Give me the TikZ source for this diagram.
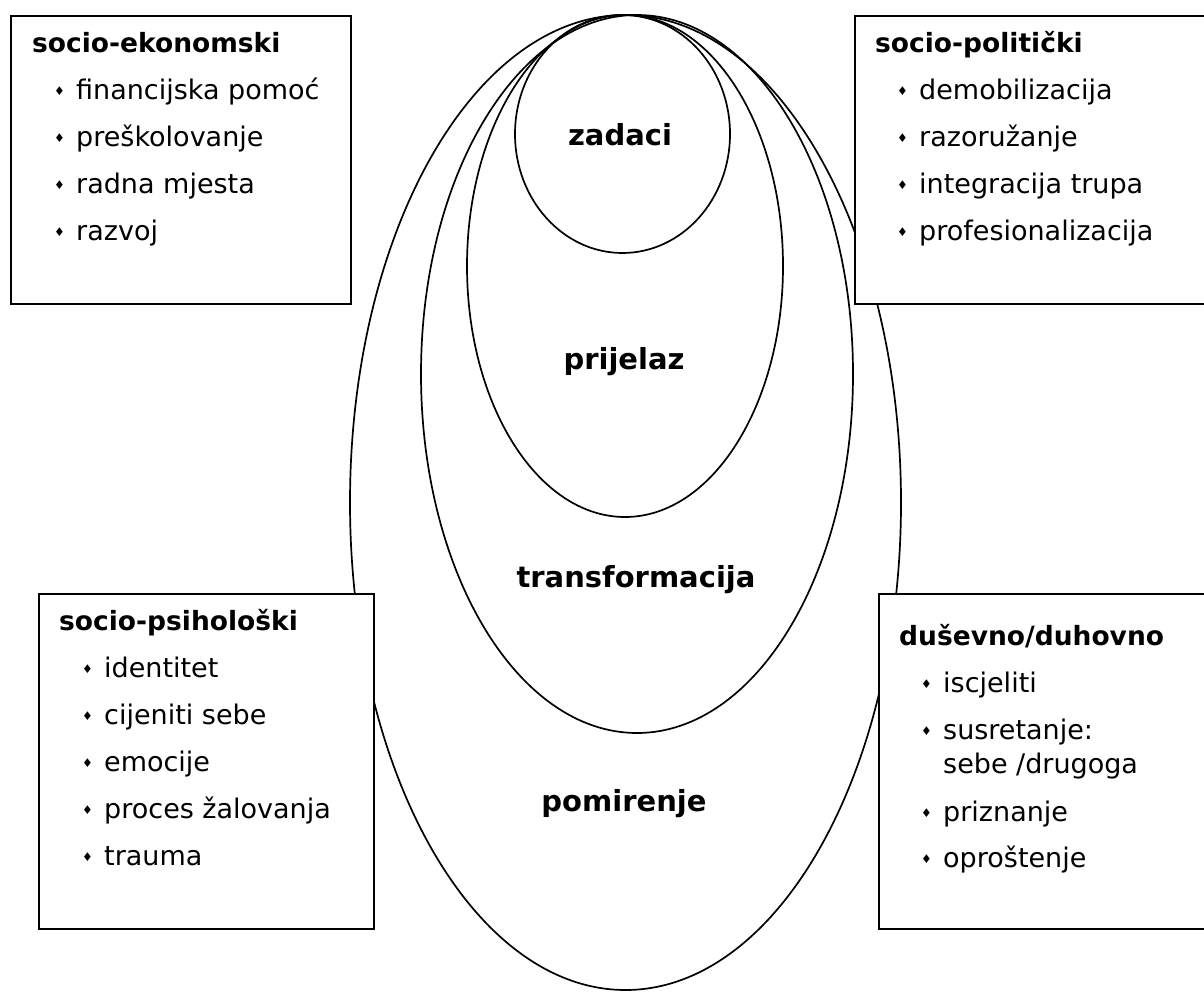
\documentclass[tikz,border=0pt]{standalone}
\usepackage{fontspec}
\setmainfont{DejaVu Sans}
\usepackage{tikz}
\usetikzlibrary{shapes.geometric, positioning}
\tikzstyle{ring} = [ellipse, draw=black, line width=1.7pt, inner sep=0pt]
\tikzstyle{panel} = [rectangle, draw=black, line width=2pt, fill=white, anchor=north west, inner sep=0pt]
\tikzstyle{heading} = [font=\fontsize{26.5}{31}\selectfont\bfseries, anchor=base west, inner sep=0pt]
\tikzstyle{item} = [font=\fontsize{27}{32}\selectfont, anchor=base west, inner sep=0pt]
\tikzstyle{stage} = [font=\fontsize{29}{35}\selectfont\bfseries, anchor=base, inner sep=0pt]
\newcommand{\bul}{\makebox[21pt][l]{\hspace*{-1pt}\raisebox{4pt}{\fontsize{12}{12}\selectfont ♦}}}

\begin{document}
\begin{tikzpicture}[x=1pt, y=-1pt]
\useasboundingbox (0,0) rectangle (1204,992);
% nested ellipses
\node[ring, minimum width=551pt, minimum height=975pt] (pomirenje) at (625.5,502.5) {};
\node[ring, minimum width=432pt, minimum height=718pt] (transformacija) at (637,374) {};
\node[ring, minimum width=316pt, minimum height=502pt] (prijelaz) at (625,266) {};
\node[ring, minimum width=215pt, minimum height=238pt] (zadaci) at (622.5,134) {};

\node[stage] (zadaci-lbl) at (620,146) {zadaci};
\node[stage] (prijelaz-lbl) at (624,369) {prijelaz};
\node[stage] (transformacija-lbl) at (636,587) {transformacija};
\node[stage] (pomirenje-lbl) at (624,811) {pomirenje};

% boxes
\node[panel, minimum width=340pt, minimum height=288pt] (eko) at (10,15) {};
\node[heading] (eko-head) at ([shift={(22,38)}]eko.north west) {socio-ekonomski};
\foreach \t [count=\i] in {financijska pomoć, preškolovanje, radna mjesta, razvoj}
  \node[item] (eko-\i) at ([shift={(23,47*\i)}]eko-head.base west) {\bul\t};

\node[panel, minimum width=366pt, minimum height=288pt] (pol) at (854,15) {};
\node[heading] (pol-head) at ([shift={(21,38)}]pol.north west) {socio-politički};
\foreach \t [count=\i] in {demobilizacija, razoružanje, integracija trupa, profesionalizacija}
  \node[item] (pol-\i) at ([shift={(23,47*\i)}]pol-head.base west) {\bul\t};

\node[panel, minimum width=335pt, minimum height=335pt] (psi) at (38,593) {};
\node[heading] (psi-head) at ([shift={(21,37)}]psi.north west) {socio-psihološki};
\foreach \t [count=\i] in {identitet, cijeniti sebe, emocije, proces žalovanja, trauma}
  \node[item] (psi-\i) at ([shift={(24,47*\i)}]psi-head.base west) {\bul\t};

\node[panel, minimum width=342pt, minimum height=335pt] (dus) at (878,593) {};
\node[heading] (dus-head) at ([shift={(21,52)}]dus.north west) {duševno/duhovno};
\foreach \t/\d [count=\i] in {iscjeliti/47, susretanje:/94, priznanje/176, oproštenje/222}
  \node[item] (dus-\i) at ([shift={(23,\d)}]dus-head.base west) {\bul\t};
\node[item] (dus-2b) at ([shift={(21,34)}]dus-2.base west) {sebe /drugoga};
\end{tikzpicture}
\end{document}
